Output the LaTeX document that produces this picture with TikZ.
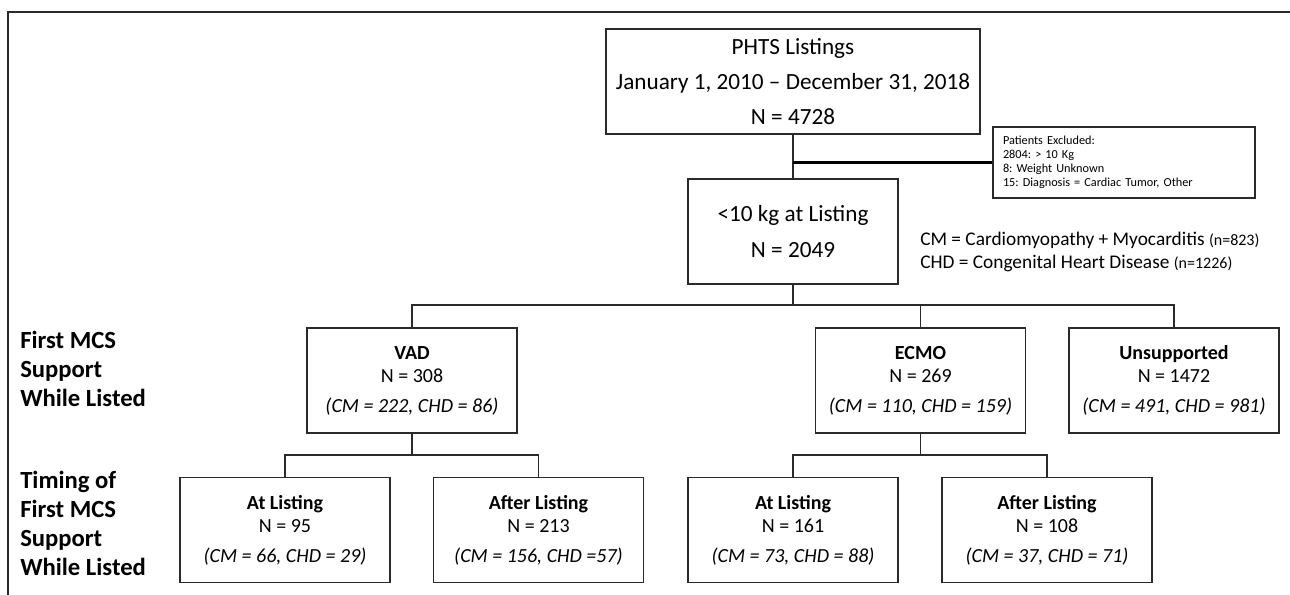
\documentclass[tikz,border=0pt]{standalone}
\usepackage{fontspec}
\setmainfont{Carlito}
\definecolor{linec}{HTML}{2A2A2A}
\frenchspacing
\begin{document}
\begin{tikzpicture}[x=0.75pt,y=-0.75pt,
  box/.style={draw=linec, line width=1.2pt, minimum width=157.5pt, minimum height=78.75pt,
    align=center, inner sep=0pt, font=\fontsize{15}{17.25}\selectfont},
  bigbox/.style={draw=linec, line width=1.2pt, align=center, inner sep=0pt,
    font=\fontsize{17.4}{26.5}\selectfont},
  exbox/.style={draw=linec, line width=1.2pt, minimum width=196.5pt, minimum height=53.25pt,
    align=left, text width=181.5pt, inner xsep=7.5pt, inner ysep=0pt,
    font=\fontsize{9.2}{10.5}\selectfont},
  conn/.style={draw=linec, line width=1.2pt},
  thickconn/.style={draw=black, line width=2.6pt},
  frame/.style={draw=linec, line width=1.6pt},
  sidelabel/.style={anchor=west, align=left, inner sep=0pt, font=\fontsize{18.5}{21.75}\selectfont\bfseries},
  legend/.style={anchor=west, align=left, inner sep=0pt, font=\fontsize{14.5}{17.25}\selectfont}
]
\useasboundingbox (0,0) rectangle (1290,595);
% frame
\coordinate (fTL) at (8,12);
\coordinate (fTR) at (1290,12);
\coordinate (fBL) at (8,595);
\draw[frame] (fTR) -- (fTL) -- (fBL);

% top boxes
\node[bigbox, minimum width=280.5pt, minimum height=78.75pt] (top) at (793,81.5)
  {PHTS Listings\\January 1, 2010 – December 31, 2018\\N = 4728};
\node[bigbox, minimum width=157.5pt, minimum height=78.75pt] (kg) at (793,231.5)
  {<10 kg at Listing\\N = 2049};
\node[exbox] (ex) at (1124,162.5)
  {Patients Excluded:\\2804: > 10 Kg\\8: Weight Unknown\\15: Diagnosis = Cardiac Tumor, Other};
\node[legend] (leg) at (920,251.5)
  {CM = Cardiomyopathy + Myocarditis {\fontsize{12}{12}\selectfont(n=823)}\\
   CHD = Congenital Heart Disease {\fontsize{12}{12}\selectfont(n=1226)}};

% row 2
\node[box] (vad) at (412,380.5) {\textbf{VAD}\\N = 308\\[5.25pt]\textit{(CM = 222, CHD = 86)}};
\node[box] (ecmo) at (920.5,380.5) {\textbf{ECMO}\\N = 269\\[5.25pt]\textit{(CM = 110, CHD = 159)}};
\node[box] (uns) at (1174,380.5) {\textbf{Unsupported}\\N = 1472\\[5.25pt]\textit{(CM = 491, CHD = 981)}};

% row 3
\node[box] (vadat) at (285,530) {\textbf{At Listing}\\N = 95\\[5.25pt]\textit{(CM = 66, CHD = 29)}};
\node[box] (vadafter) at (538.5,530) {\textbf{After Listing}\\N = 213\\[5.25pt]\textit{(CM = 156, CHD =57)}};
\node[box] (ecmoat) at (793,530) {\textbf{At Listing}\\N = 161\\[5.25pt]\textit{(CM = 73, CHD = 88)}};
\node[box] (ecmoafter) at (1047,530) {\textbf{After Listing}\\N = 108\\[5.25pt]\textit{(CM = 37, CHD = 71)}};

% side labels
\node[sidelabel] (lab1) at (20,369) {First MCS\\Support\\While Listed};
\node[sidelabel] (lab2) at (20,523.5) {Timing of\\First MCS\\Support\\While Listed};

% connectors
\coordinate (b2) at (0,305);
\coordinate (b3) at (0,455);
\draw[conn] (top.south) -- (kg.north);
\draw[thickconn] (ex.west) -- (ex.west -| top.south);
\draw[conn] (kg.south) -- (kg.south |- b2);
\draw[conn] (vad.north) -- (vad.north |- b2) -- (uns.north |- b2) -- (uns.north);
\draw[conn] (ecmo.north) -- (ecmo.north |- b2);
\draw[conn] (vad.south) -- (vad.south |- b3);
\draw[conn] (vadat.north) -- (vadat.north |- b3) -- (vadafter.north |- b3) -- (vadafter.north);
\draw[conn] (ecmo.south) -- (ecmo.south |- b3);
\draw[conn] (ecmoat.north) -- (ecmoat.north |- b3) -- (ecmoafter.north |- b3) -- (ecmoafter.north);
\end{tikzpicture}
\end{document}
